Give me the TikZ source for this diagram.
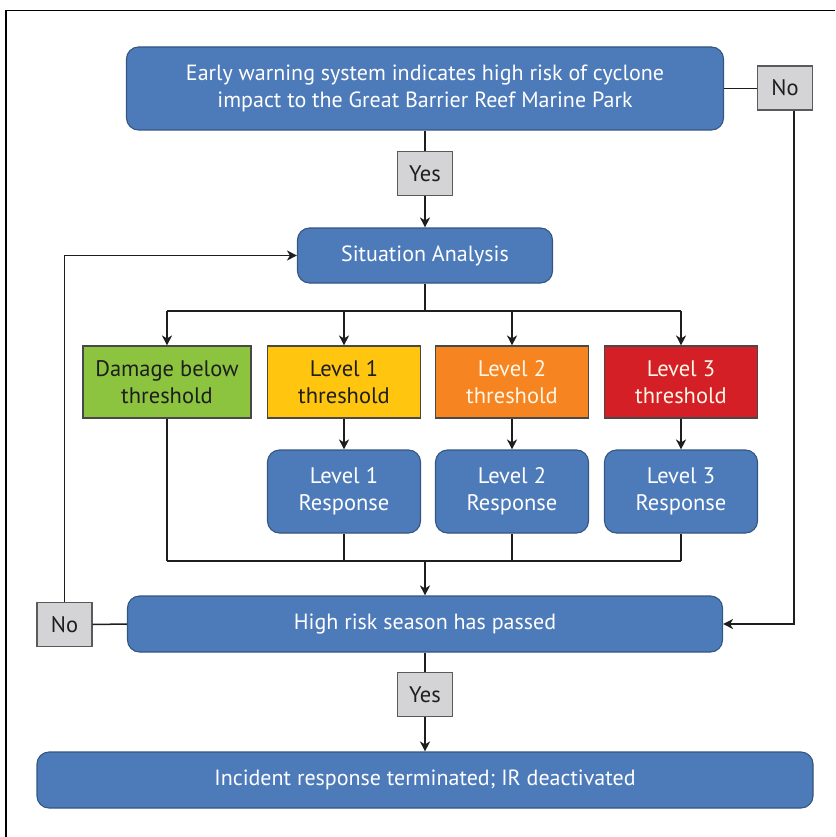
\documentclass[tikz,border=0pt]{standalone}
\usepackage{fontspec}
\setmainfont{PT Sans}
\usetikzlibrary{arrows.meta}

\definecolor{boxblue}{HTML}{4D7BBA}
\definecolor{blueedge}{HTML}{34567F}
\definecolor{tagfill}{HTML}{D4D4D6}
\definecolor{tagedge}{HTML}{5A5A5A}
\definecolor{lvgreen}{HTML}{8CC43F}
\definecolor{lvyellow}{HTML}{FFC50F}
\definecolor{lvorange}{HTML}{F58421}
\definecolor{lvred}{HTML}{D51F27}
\definecolor{cream}{HTML}{FFF6E6}
\definecolor{ink}{HTML}{1E1E1E}

\tikzset{
  bluebox/.style={draw=blueedge, line width=1.1pt, fill=boxblue, rounded corners=12pt,
    text=white, align=center, font=\fontsize{22}{27}\selectfont, inner sep=0pt},
  tagbox/.style={draw=tagedge, line width=1.1pt, fill=tagfill, text=ink,
    minimum width=55pt, minimum height=44pt, inner sep=0pt, font=\fontsize{22.5}{27}\selectfont},
  levelbox/.style={draw=tagedge!80!black, line width=1.1pt, minimum width=153pt, minimum height=72pt,
    align=center, inner sep=0pt, font=\fontsize{22.5}{27}\selectfont},
  respbox/.style={bluebox, minimum width=153pt, minimum height=83pt, font=\fontsize{22.5}{27}\selectfont},
  link/.style={draw=ink, line width=1.5pt},
  arrowlink/.style={link, -{Stealth[length=10pt,width=10pt,inset=3pt]}}
}

\begin{document}
\begin{tikzpicture}[x=1pt,y=-1pt]
  % canvas and frame
  \useasboundingbox (0,0) rectangle (835,837);
  \draw[line width=1.4pt] (5,10.5) -- (835,10.5);
  \draw[line width=1.4pt] (6,10) -- (6,837);

  % decision and action boxes
  \node[bluebox, minimum width=597pt, minimum height=83pt] (top) at (425,88.5)
    {Early warning system indicates high risk of cyclone\\impact to the Great Barrier Reef Marine Park};
  \node[tagbox] (noA) at (785,88) {No};
  \node[tagbox] (yesA) at (425,173.5) {Yes};
  \node[bluebox, minimum width=255pt, minimum height=55pt] (sit) at (425,255.5) {Situation Analysis};

  \node[levelbox, fill=lvgreen, text=ink, minimum width=168pt] (dmg) at (167,382) {Damage below\\threshold};
  \node[levelbox, fill=lvyellow, text=ink] (l1) at (344,382) {Level 1\\threshold};
  \node[levelbox, fill=lvorange, text=cream] (l2) at (512,382) {Level 2\\threshold};
  \node[levelbox, fill=lvred, text=cream] (l3) at (681,382) {Level 3\\threshold};

  \node[respbox] (r1) at (344,491.5) {Level 1\\Response};
  \node[respbox] (r2) at (512,491.5) {Level 2\\Response};
  \node[respbox] (r3) at (681,491.5) {Level 3\\Response};

  \node[bluebox, minimum width=595pt, minimum height=56pt] (high) at (425,624) {High risk season has passed};
  \node[tagbox] (noB) at (64.5,624.5) {No};
  \node[tagbox] (yesB) at (425,694.5) {Yes};
  \node[bluebox, minimum width=776pt, minimum height=56pt] (final) at (425,780)
    {Incident response terminated; IR deactivated};

  % branch and merge points
  \coordinate (branch) at (425,311);
  \coordinate (merge) at (425,561);

  % connectors
  \draw[link] (top.east) -- (top.east -| noA.west);
  \draw[arrowlink] ([xshift=9pt]noA.south) |- (high.east);
  \draw[link] (top.south) -- (yesA.north);
  \draw[arrowlink] (yesA.south) -- (sit.north);

  \draw[link] (sit.south) -- (branch);
  \draw[link] (branch -| dmg.north) -- (branch -| l3.north);
  \draw[arrowlink] (branch -| dmg.north) -- (dmg.north);
  \draw[arrowlink] (branch -| l1.north) -- (l1.north);
  \draw[arrowlink] (branch -| l2.north) -- (l2.north);
  \draw[arrowlink] (branch -| l3.north) -- (l3.north);

  \draw[arrowlink] (l1.south) -- (r1.north);
  \draw[arrowlink] (l2.south) -- (r2.north);
  \draw[arrowlink] (l3.south) -- (r3.north);

  \draw[link] (dmg.south) -- (dmg.south |- merge);
  \draw[link] (r1.south) -- (r1.south |- merge);
  \draw[link] (r2.south) -- (r2.south |- merge);
  \draw[link] (r3.south) -- (r3.south |- merge);
  \draw[link] (dmg.south |- merge) -- (r3.south |- merge);
  \draw[arrowlink] (merge) -- (high.north);

  \draw[link] (high.west) -- (noB.east);
  \draw[arrowlink] (noB.north) |- (sit.west);
  \draw[link] (high.south) -- (yesB.north);
  \draw[arrowlink] (yesB.south) -- (final.north);
\end{tikzpicture}
\end{document}
